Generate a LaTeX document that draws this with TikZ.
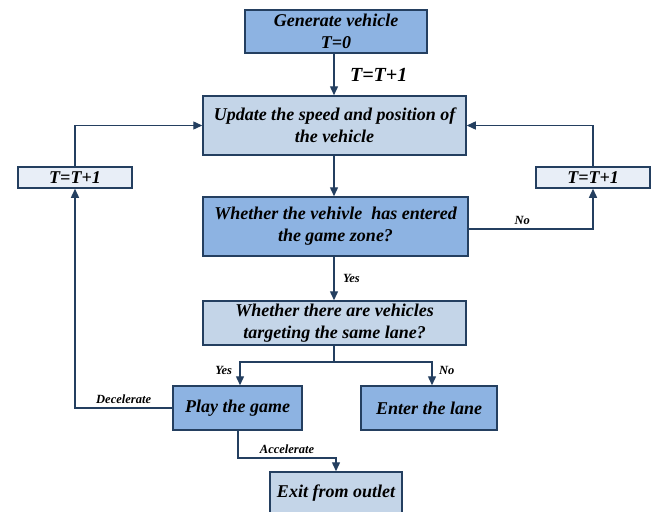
\documentclass[tikz,border=0pt]{standalone}
\usepackage{fontspec}
\setmainfont{Liberation Serif}
\usetikzlibrary{arrows.meta}
\definecolor{navy}{HTML}{243F60}
\definecolor{midblue}{HTML}{8DB3E2}
\definecolor{lightblue}{HTML}{C4D5E8}
\definecolor{paleblue}{HTML}{E8EEF7}
\begin{document}
\begin{tikzpicture}[x=1pt,y=-1pt,
  box/.style={draw=navy,line width=1.5pt,inner sep=0pt,align=center,font=\bfseries\itshape\fontsize{18}{22}\selectfont},
  mid/.style={box,fill=midblue},
  light/.style={box,fill=lightblue},
  pale/.style={box,fill=paleblue},
  conn/.style={draw=navy,line width=1.4pt},
  arr/.style={conn,-{Triangle[length=9pt,width=8pt]}},
  lab/.style={font=\bfseries\itshape\fontsize{12.5}{14}\selectfont,text=black}]
\useasboundingbox (0,0) rectangle (660,511);
\node[mid,minimum width=182pt,minimum height=43pt] (gen) at (336,31.5) {Generate vehicle\\T=0};
\node[light,minimum width=263pt,minimum height=59pt] (upd) at (334.5,125.5) {Update the speed and position of\\the vehicle};
\node[pale,minimum width=114pt,minimum height=21pt,font=\bfseries\itshape\fontsize{18}{20}\selectfont] (tl) at (75,177.5) {T=T+1};
\node[pale,minimum width=114pt,minimum height=21pt,font=\bfseries\itshape\fontsize{18}{20}\selectfont] (tr) at (593,177.5) {T=T+1};
\node[mid,minimum width=265pt,minimum height=59pt] (zone) at (335.5,226.5) {Whether the vehivle\ \ has entered\\the game zone?};
\node[light,minimum width=263pt,minimum height=44pt] (same) at (334.5,323) {Whether there are vehicles\\targeting the same lane?};
\node[mid,minimum width=129pt,minimum height=44pt] (play) at (237.5,408) {Play the game};
\node[mid,minimum width=136pt,minimum height=44pt] (enter) at (429,408) {Enter the lane};
\node[light,minimum width=132pt,minimum height=42pt] (exit) at (336,493) {Exit from outlet};
\coordinate (split) at (334,362);
\draw[arr] (gen.south -| 334,0) -- node[right,lab,font=\bfseries\itshape\fontsize{20}{22}\selectfont,xshift=12pt] {T=T+1} (upd.north -| 334,0);
\draw[arr] (upd.south -| 334,0) -- (zone.north -| 334,0);
\draw[arr] (zone.south -| 334,0) -- node[right,lab,xshift=5pt] {Yes} (same.north -| 334,0);
\draw[arr] (tl.north) |- (upd.west);
\draw[arr] (tr.north) |- (upd.east);
\draw[arr] (zone.east |- 0,229) -- node[above,lab,pos=0.43] {No} (593,229) -- (tr.south);
\draw[conn] (same.south -| 334,0) -- (split);
\draw[arr] (split) -| node[pos=0.68,left,lab,xshift=-4pt] {Yes} (play.north -| 240,0);
\draw[arr] (split) -| node[pos=0.68,right,lab,xshift=3pt] {No} (enter.north -| 432,0);
\draw[arr] (play.west) -- node[above,lab,pos=0.5] {Decelerate} (75,408) -- (tl.south);
\draw[arr] (play.south -| 238,0) |- node[pos=0.75,above,lab] {Accelerate} (336,458) -- (exit.north);
\end{tikzpicture}
\end{document}
